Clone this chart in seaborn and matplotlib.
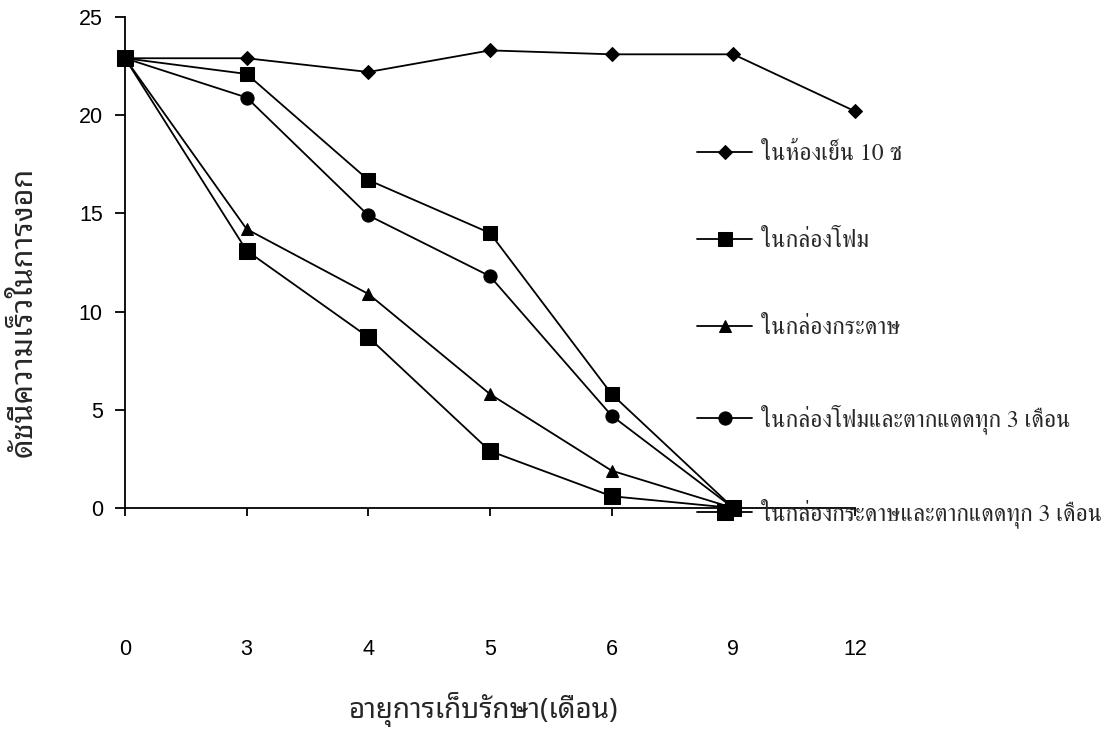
import matplotlib
matplotlib.use("Agg")
import matplotlib.pyplot as plt
import seaborn as sns

# storage age (months) -- equally spaced categories on the chart
months = ["0", "3", "4", "5", "6", "9", "12"]

cold_room = [22.9, 22.9, 22.2, 23.3, 23.1, 23.1, 20.2]
foam_box = [22.9, 22.1, 16.7, 14.0, 5.8, 0.0]
paper_box = [22.9, 14.2, 10.9, 5.8, 1.9, 0.0]
foam_sun = [22.9, 20.9, 14.9, 11.8, 4.7, 0.0]
paper_sun = [22.9, 13.1, 8.7, 2.9, 0.6, 0.0]

labels = [
    "ในห้องเย็น 10 ซ",
    "ในกล่องโฟม",
    "ในกล่องกระดาษ",
    "ในกล่องโฟมและตากแดดทุก 3 เดือน",
    "ในกล่องกระดาษและตากแดดทุก 3 เดือน",
]
series = [cold_room, foam_box, paper_box, foam_sun, paper_sun]
markers = ["D", "s", "^", "o", "s"]
msizes = [7, 9.5, 9, 9.5, 12]

sns.set_style("ticks")
plt.rcParams["font.family"] = ["Liberation Sans", "DejaVu Sans"]

fig = plt.figure(figsize=(11.14, 7.31), dpi=100)
ax = fig.add_axes([125 / 1114, 1 - 508 / 731, 730 / 1114, 491 / 731])

for vals, lab, mk, ms in zip(series, labels, markers, msizes):
    sns.lineplot(x=months[:len(vals)], y=vals, ax=ax, color="black",
                 marker=mk, markersize=ms, markeredgecolor="black",
                 linewidth=1.3, sort=False, label=lab, clip_on=False)

ax.set_xlim(0, len(months) - 1)
ax.set_ylim(0, 25)
ax.set_yticks([0, 5, 10, 15, 20, 25])

sns.despine(ax=ax)
for s in ["left", "bottom"]:
    ax.spines[s].set_linewidth(1.3)
    ax.spines[s].set_color("black")
ax.tick_params(axis="x", direction="out", length=6, width=1.3,
               pad=88, labelsize=15.5, colors="black")
ax.tick_params(axis="y", direction="out", length=7, width=1.3,
               pad=9, labelsize=15.5, colors="black")

thai_sans = ["Noto Sans Thai Looped", "DejaVu Sans"]
ax.set_xlabel("อายุการเก็บรักษา(เดือน)", family=thai_sans, fontsize=20)
ax.xaxis.set_label_coords(0.49, -0.375)
ax.set_ylabel("ดัชนีความเร็วในการงอก", family=thai_sans,
              fontsize=22, fontweight="bold")
ax.yaxis.set_label_coords(-0.118, 0.40)

ax.legend(loc="upper left", bbox_to_anchor=(697 / 1114, 1 - 143 / 731),
          bbox_transform=fig.transFigure, frameon=False, borderpad=0,
          borderaxespad=0, handlelength=2.35, handletextpad=0.35,
          labelspacing=2.75, numpoints=1,
          prop={"family": ["FreeSerif", "DejaVu Sans"], "size": 17})

fig.savefig("out.png")
